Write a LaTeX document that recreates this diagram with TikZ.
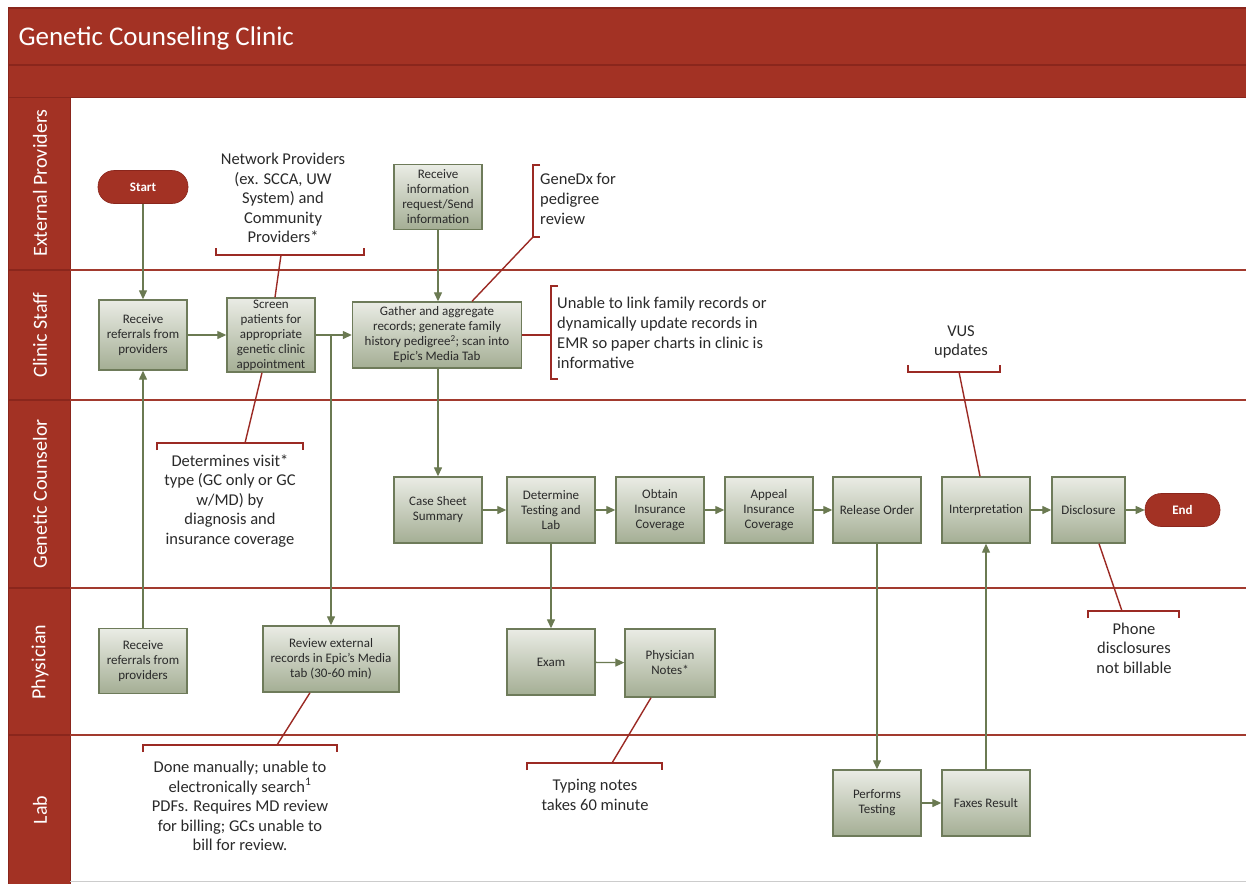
\documentclass[tikz,border=0pt]{standalone}
\usepackage{fontspec}
\setmainfont{Carlito}
\usetikzlibrary{arrows.meta}
\definecolor{frameRed}{HTML}{A33224}
\definecolor{frameDark}{HTML}{8A261C}
\definecolor{laneLine}{HTML}{A23A2E}
\definecolor{calloutRed}{HTML}{9B2A24}
\definecolor{olive}{HTML}{6B7A52}
\definecolor{boxEdge}{HTML}{6E7B5A}
\definecolor{boxTop}{HTML}{EAECE5}
\definecolor{boxBot}{HTML}{A4AE94}
\definecolor{txt}{HTML}{2A2A2A}
\tikzset{
  pbox/.style={draw=boxEdge, line width=1.4pt, top color=boxTop, bottom color=boxBot,
    minimum width=88pt, minimum height=65pt, inner sep=1pt, align=center, text=txt,
    font=\fontsize{13}{15}\selectfont},
  pill/.style={fill=frameRed, draw=frameDark, line width=0.6pt, rounded corners=16pt,
    minimum height=33pt, text=white, font=\fontsize{13}{14}\selectfont\bfseries},
  flow/.style={draw=olive, line width=1.3pt, -{Triangle[length=9pt,width=8pt]}},
  callout/.style={draw=calloutRed, line width=1.4pt},
  ctext/.style={align=center, text=txt, font=\fontsize{16.5}{19.5}\selectfont, inner sep=0pt},
  ltext/.style={align=left, text=txt, font=\fontsize{16.5}{19.8}\selectfont, inner sep=0pt, anchor=west},
  lanelabel/.style={rotate=90, text=white, font=\fontsize{20}{22}\selectfont}
}
\begin{document}
\begin{tikzpicture}[x=1pt,y=-1pt]
\useasboundingbox (0,0) rectangle (1246,884);
\fill[white] (0,0) rectangle (1246,884);
% frame
\fill[frameRed] (8,8) rectangle (1246,97);
\fill[frameRed] (8,97) rectangle (70,884);
\draw[frameDark, line width=1.2pt] (8,8) -- (1246,8);
\draw[frameDark, line width=1.5pt] (8,65) -- (1246,65);
\draw[frameDark, line width=1pt] (8,97) -- (1246,97);
\draw[frameDark, line width=1pt] (8,8) -- (8,884);
\draw[frameDark, line width=1pt] (70,97) -- (70,884);
\node[anchor=west, text=white, font=\fontsize{27}{29}\selectfont] (title) at (15,38) {Genetic Counseling Clinic};
% lane lines
\foreach \yy in {270,400,588,735}{
  \draw[laneLine, line width=1.5pt] (70,\yy) -- (1246,\yy);
  \draw[frameDark, line width=1.2pt] (8,\yy) -- (70,\yy);
}
\draw[gray!40, line width=0.6pt] (70,881) -- (1246,881);
\node[lanelabel] (l1) at (40,183) {External Providers};
\node[lanelabel] (l2) at (40,335) {Clinic Staff};
\node[lanelabel] (l3) at (40,494) {Genetic Counselor};
\node[lanelabel] (l4) at (40,662) {Physician};
\node[lanelabel] (l5) at (40,810) {Lab};

% nodes
\node[pill, minimum width=90pt] (start) at (143,187) {Start};
\node[pbox, minimum height=70pt] (rc) at (143,335) {Receive\\referrals from\\providers};
\node[pbox, minimum height=74pt] (screen) at (271,335) {Screen\\patients for\\appropriate\\genetic clinic\\appointment};
\node[pbox, minimum width=169pt, minimum height=66pt] (gather) at (437,335) {Gather and aggregate\\records; generate family\\history pedigree\textsuperscript{2}; scan into\\Epic's Media Tab};
\node[pbox] (recv) at (438,197) {Receive\\information\\request/Send\\information};
\node[pbox, minimum height=66pt] (case) at (438,510) {Case Sheet\\Summary};
\node[pbox, minimum height=66pt] (det) at (551,510) {Determine\\Testing and\\Lab};
\node[pbox, minimum height=66pt] (obt) at (660,510) {Obtain\\Insurance\\Coverage};
\node[pbox, minimum height=66pt] (app) at (769,510) {Appeal\\Insurance\\Coverage};
\node[pbox, minimum height=66pt] (rel) at (877,510) {Release Order};
\node[pbox, minimum height=66pt] (interp) at (986,510) {Interpretation};
\node[pbox, minimum width=73pt, minimum height=66pt] (disc) at (1088.5,510) {Disclosure};
\node[pill, minimum width=75pt] (endn) at (1182.5,510) {End};
\node[pbox] (prc) at (143,661) {Receive\\referrals from\\providers};
\node[pbox, minimum width=136pt, minimum height=66pt] (rev) at (331,659) {Review external\\records in Epic's Media\\tab (30-60 min)};
\node[pbox, minimum height=66pt] (exam) at (551,662) {Exam};
\node[pbox, minimum width=90pt, minimum height=68pt] (notes) at (670,663) {Physician\\Notes*};
\node[pbox, minimum height=66pt] (perf) at (877,803) {Performs\\Testing};
\node[pbox, minimum height=66pt] (fax) at (986,803) {Faxes Result};

% flow connectors
\draw[flow] (start) -- (rc);
\draw[flow] (rc) -- (screen);
\draw[flow] (screen) -- (gather);
\draw[flow] (screen.east) -| (rev.north);
\draw[flow] (recv.south) -- (recv.south |- gather.north);
\draw[flow] (gather.south -| case.north) -- (case.north);
\draw[flow] (case) -- (det);
\draw[flow] (det) -- (obt);
\draw[flow] (obt) -- (app);
\draw[flow] (app) -- (rel);
\draw[flow] (interp) -- (disc);
\draw[flow] (disc) -- (endn);
\draw[flow] (det) -- (exam);
\draw[flow] (exam) -- (notes);
\draw[flow] (rel) -- (perf);
\draw[flow] (perf) -- (fax);
\draw[flow] (fax) -- (interp);
\draw[flow] (prc) -- (rc);

% callouts
\node[ctext] (netp) at (283,198) {Network Providers\\(ex. SCCA, UW\\System) and\\Community\\Providers*};
\coordinate (netb) at (281,255);
\draw[callout] (216,248) -- (216,255) -- (364,255) -- (364,248);
\draw[callout] (netb) -- (screen.north -| 275,0);

\node[ltext] (genedx) at (540,199) {GeneDx for\\pedigree\\review};
\coordinate (gdb) at (533,237);
\draw[callout] (540,165) -- (533,165) -- (gdb) -- (540,237);
\draw[callout] (gdb) -- (gather.north -| 472,0);

\node[ltext] (unable) at (557,333) {Unable to link family records or\\dynamically update records in\\EMR so paper charts in clinic is\\informative};
\coordinate (unb) at (551,335);
\draw[callout] (558,286) -- (551,286) -- (551,379) -- (558,379);
\draw[callout] (gather.east) -- (unb);

\node[ctext] (detv) at (230,501) {Determines visit*\\type (GC only or GC\\w/MD) by\\diagnosis and\\insurance coverage};
\coordinate (detb) at (245,443);
\draw[callout] (157,450) -- (157,443) -- (303,443) -- (303,450);
\draw[callout] (detb) -- (screen.south -| 262,0);

\node[ctext] (vus) at (961,342) {VUS\\updates};
\coordinate (vusb) at (959,372);
\draw[callout] (908,365) -- (908,372) -- (1000,372) -- (1000,365);
\draw[callout] (vusb) -- (interp.north -| 980,0);

\node[ctext] (phone) at (1134,648) {Phone\\disclosures\\not billable};
\coordinate (phb) at (1122,611);
\draw[callout] (1088,618) -- (1088,611) -- (1179,611) -- (1179,618);
\draw[callout] (disc.south -| 1099,0) -- (phb);

\node[ctext] (typing) at (595,795) {Typing notes\\takes 60 minute};
\coordinate (tyb) at (612,763);
\draw[callout] (527,770) -- (527,763) -- (662,763) -- (662,770);
\draw[callout] (tyb) -- (notes.south -| 651,0);

\node[ctext] (done) at (240,806) {Done manually; unable to\\electronically search\textsuperscript{1}\\PDFs. Requires MD review\\for billing; GCs unable to\\bill for review.};
\coordinate (dnb) at (277,745);
\draw[callout] (143,752) -- (143,745) -- (337,745) -- (337,752);
\draw[callout] (dnb) -- (rev.south -| 310,0);
\end{tikzpicture}
\end{document}
